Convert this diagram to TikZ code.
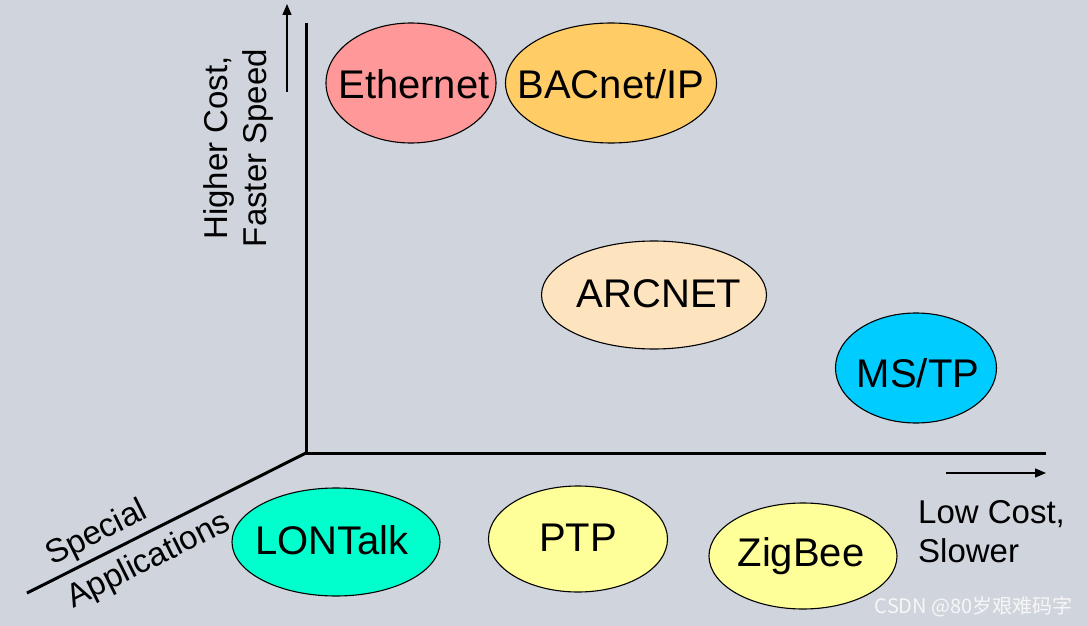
\documentclass[tikz,border=0pt]{standalone}
\usepackage{fontspec}
\setmainfont{Liberation Sans}
\newfontfamily\cjk{Noto Sans CJK SC}
\usetikzlibrary{shapes.geometric,arrows.meta}
\definecolor{bg}{RGB}{208,212,220}
\definecolor{ethc}{RGB}{255,153,153}
\definecolor{bacc}{RGB}{255,204,102}
\definecolor{arcc}{RGB}{253,228,190}
\definecolor{msc}{RGB}{0,204,255}
\definecolor{lonc}{RGB}{0,255,204}
\definecolor{ylc}{RGB}{255,255,153}
\tikzset{
  blob/.style={ellipse, draw=black, line width=1.1pt, inner sep=0pt},
  lbl/.style={font=\fontsize{40}{44}\selectfont, inner sep=0pt},
  axis/.style={line width=3pt},
  dirarrow/.style={line width=1.4pt, -{Triangle[length=11pt,width=9pt]}},
  axlbl/.style={font=\fontsize{33}{39}\selectfont, align=left, inner sep=0pt},
}
\begin{document}
\begin{tikzpicture}[x=1pt,y=-1pt]
\fill[bg] (0,0) rectangle (1088,626);
\useasboundingbox (0,0) rectangle (1088,626);

% axes
\coordinate (o) at (306,453);
\coordinate (ytop) at (306,23);
\coordinate (xend) at (1046,453);
\coordinate (dend) at (27,593);
\draw[axis] (ytop) -- (o) -- (xend);
\draw[axis] (o) -- (dend);

% direction arrows
\coordinate (va) at (287,92);
\coordinate (vb) at (287,4);
\draw[dirarrow] (va) -- (vb);
\coordinate (ha) at (946,473);
\coordinate (hb) at (1046,473);
\draw[dirarrow] (ha) -- (hb);

% axis labels
\node[axlbl, rotate=90, align=center] (ylab) at (238,148) {Higher Cost,\\Faster Speed};
\node[axlbl, anchor=north west] (xlab) at (918,500) {Low Cost,\\Slower};
\node[axlbl, rotate=26.6] (sp) at (97,534) {Special};
\node[axlbl, rotate=26.6] (ap) at (149,561) {Applications};

% ellipses
\node[blob, fill=ethc, minimum width=170pt, minimum height=120pt] (eth) at (411,83) {};
\node[lbl] at (414,84) {Ethernet};
\node[blob, fill=bacc, minimum width=211pt, minimum height=120pt] (bac) at (611,83) {};
\node[lbl] at (611,84) {BACnet/IP};
\node[blob, fill=arcc, minimum width=225pt, minimum height=108pt] (arc) at (654,295) {};
\node[lbl] at (659,294) {ARCNET};
\node[blob, fill=msc, minimum width=161pt, minimum height=110pt] (ms) at (916,368) {};
\node[lbl] at (918,373) {MS/TP};
\node[blob, fill=lonc, minimum width=208pt, minimum height=108pt] (lon) at (336,542) {};
\node[lbl] at (332,540) {LONTalk};
\node[blob, fill=ylc, minimum width=179pt, minimum height=106pt] (ptp) at (578,539) {};
\node[lbl] at (578,538) {PTP};
\node[blob, fill=ylc, minimum width=188pt, minimum height=106pt] (zig) at (803,556) {};
\node[lbl] at (801,556) {ZigBee};

% watermark
\node[font=\fontsize{20}{24}\selectfont\cjk, text=white!94!gray, anchor=east, inner sep=0pt] (wm) at (1073,607) {CSDN @80岁艰难码字};
\end{tikzpicture}
\end{document}
